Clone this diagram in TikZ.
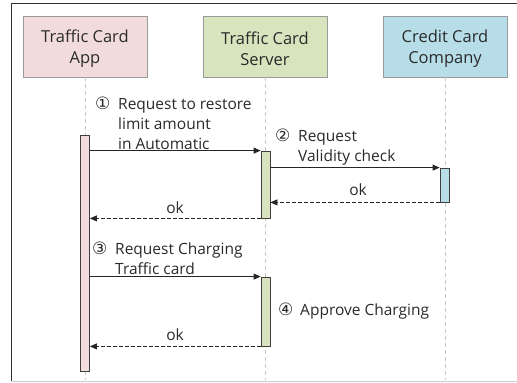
\documentclass[tikz,border=0pt]{standalone}
\usepackage{fontspec}
\setmainfont{Open Sans}
\newfontfamily\symfont{DejaVu Sans}
\usetikzlibrary{arrows.meta}
\definecolor{apppink}{HTML}{F2DCDB}
\definecolor{srvgreen}{HTML}{D7E4BD}
\definecolor{ccblue}{HTML}{B7DEE8}
\definecolor{boxline}{HTML}{9A9A9A}
\definecolor{txt}{HTML}{2A2A2A}
\definecolor{lifegray}{HTML}{C8C8C8}
\newcommand{\cnum}[1]{{\symfont\fontsize{17}{17}\selectfont #1}}
\tikzset{
  actor/.style={draw=boxline, line width=0.8pt, minimum width=124pt, minimum height=61pt, inner sep=0pt},
  actortext/.style={align=center, inner sep=0pt, text=txt, font=\fontsize{16.5}{21}\selectfont, yshift=-2pt},
  bar/.style={draw=black!75, line width=0.8pt, minimum width=9pt, inner sep=0pt},
  life/.style={draw=lifegray, line width=1pt, dash pattern=on 4pt off 3pt},
  msg/.style={draw=black!85, line width=0.8pt, -{Triangle[length=7pt,width=6pt]}},
  reply/.style={msg, dash pattern=on 3.5pt off 2.5pt},
  lbl/.style={anchor=base west, inner sep=0pt, align=left, text=txt, font=\fontsize{15.5}{20}\selectfont},
  num/.style={anchor=base west, inner sep=0pt, text=txt}
}
\begin{document}
\begin{tikzpicture}[x=1pt,y=-1pt]
\useasboundingbox (0,0) rectangle (517,383);
% frame
\draw[black!80, line width=0.8pt] (11.5,381) -- (11.5,3) -- (518,3);
\draw[black!20, line width=0.8pt] (11.5,381) -- (518,381);
% actors
\node[actor, fill=apppink, label={[actortext]center:Traffic Card\\App}] (app) at (85,46.5) {};
\node[actor, fill=srvgreen, label={[actortext]center:Traffic Card\\Server}] (srv) at (265,46.5) {};
\node[actor, fill=ccblue, label={[actortext]center:Credit Card\\Company}] (cc) at (445,46.5) {};
% lifelines
\coordinate (append) at (85,380);
\coordinate (srvend) at (265,380);
\coordinate (ccend) at (445,380);
\draw[life] (app.south) -- (append);
\draw[life] (srv.south) -- (srvend);
\draw[life] (cc.south) -- (ccend);
% activation bars
\node[bar, fill=apppink, minimum height=236pt] (a1) at (85,253) {};
\node[bar, fill=srvgreen, minimum height=67pt] (s1) at (265.5,184.5) {};
\node[bar, fill=ccblue, minimum height=34pt] (c1) at (444.5,185) {};
\node[bar, fill=srvgreen, minimum height=69pt] (s2) at (265.5,311.5) {};
% messages
\draw[msg] (a1.east |- s1.north) -- (s1.north west);
\draw[msg] (s1.east |- c1.north) -- (c1.north west);
\draw[reply] (c1.south west) -- (s1.east |- c1.south);
\draw[reply] (s1.south west) -- (a1.east |- s1.south);
\draw[msg] (a1.east |- s2.north) -- (s2.north west);
\draw[reply] (s2.south west) -- (a1.east |- s2.south);
% labels (multi-line nodes are placed by their last baseline)
\node[num] (n1) at (95,109) {\cnum{①}};
\node[lbl] (l1) at (118,149) {Request to restore\\limit amount\\in Automatic};
\node[num] (n2) at (275,141) {\cnum{②}};
\node[lbl] (l2) at (298,161) {Request\\Validity check};
\node[lbl, anchor=base] (ok1) at (358,195) {ok};
\node[lbl, anchor=base] (ok2) at (175,213) {ok};
\node[num] (n3) at (92,254) {\cnum{③}};
\node[lbl] (l3) at (115,274) {Request Charging\\Traffic card};
\node[num] (n4) at (278,315) {\cnum{④}};
\node[lbl] (l4) at (300,315) {Approve Charging};
\node[lbl, anchor=base] (ok3) at (175,340) {ok};
\end{tikzpicture}
\end{document}
